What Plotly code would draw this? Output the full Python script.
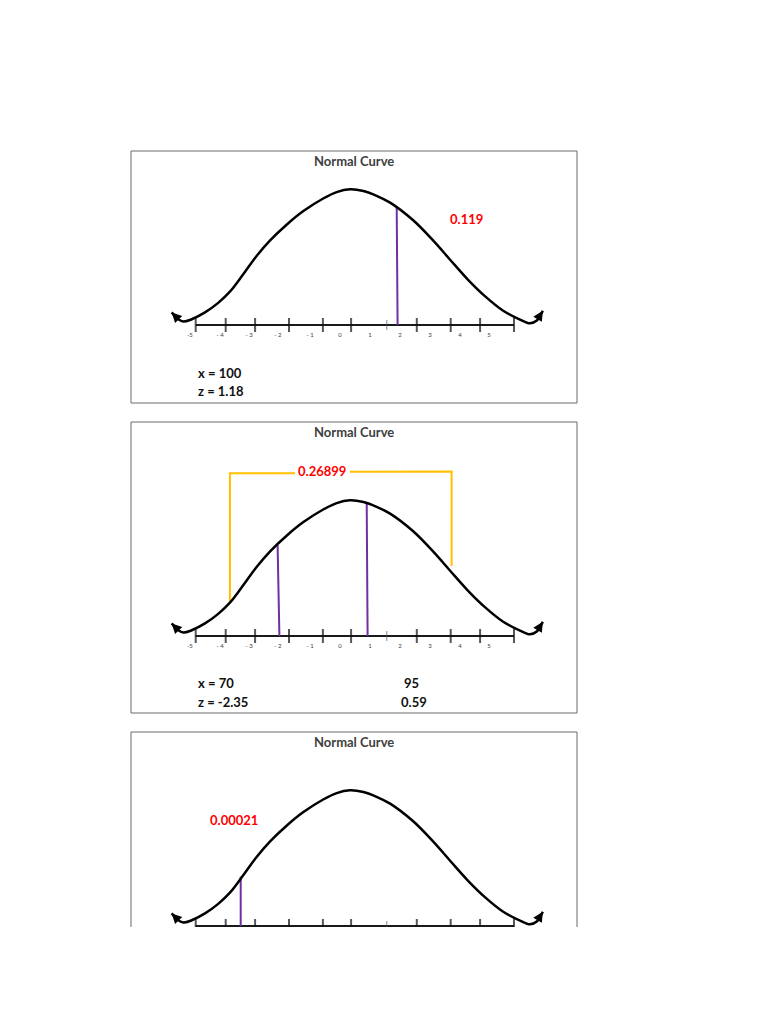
import plotly.graph_objects as go

W, H = 768, 1024

# traced outline of the hand-drawn bell curve (same drawing in all panels)
curve_x = [-5.61, -5.39, -5.22, -4.94, -4.50, -4.06, -3.67, -3.22, -2.78, -2.33,
           -1.78, -1.22, -0.56, -0.11, 0.33, 0.78, 1.22, 1.67, 2.44, 3.11,
           3.67, 4.27, 4.83, 5.44, 6.00, 6.33, 6.56, 6.76]
curve_y = [0.037, 0.017, 0.010, 0.017, 0.037, 0.065, 0.098, 0.150, 0.203, 0.249,
           0.295, 0.335, 0.372, 0.391, 0.399, 0.394, 0.380, 0.360, 0.308, 0.248,
           0.192, 0.133, 0.085, 0.042, 0.016, 0.005, 0.013, 0.042]

# number line: tick marks (the 7th one is the thin one) and labels
tick_pos = [-4.81, -3.81, -2.83, -1.70, -0.57, 0.37, 1.56, 2.56, 3.69, 4.67, 5.80]
tick_thin = [False, False, False, False, False, False, True, False, False, False, False]
label_pos = [-5, -4, -3.03, -2.07, -1, 0, 1, 2, 3, 4, 4.97]
label_txt = ["-5", "- 4", "- 3", "- 2", "- 1", "0", "1", "2", "3", "4", "5"]

# panel 1
p1_cut_x = [[1.92, 1.89]]
p1_cut_y = [[0, 0.347]]
p1_prob = "0.119"
p1_prob_xy = (4.23, 0.312)
p1_notes = [("x = 100", -4.8, -0.140), ("z = 1.18", -4.8, -0.194)]

# panel 2
p2_cut_x = [[-2.02, -2.08], [0.92, 0.89]]
p2_cut_y = [[0, 0.268], [0, 0.392]]
p2_bracket_x = [-3.67, -3.67, -1.50, None, 0.33, 3.72, 3.72]
p2_bracket_y = [0.100, 0.479, 0.479, None, 0.483, 0.484, 0.206]
p2_prob = "0.26899"
p2_prob_xy = (-0.61, 0.485)
p2_notes = [("x = 70", -4.8, -0.139), ("z = -2.35", -4.8, -0.193),
            ("95", 2.06, -0.139), ("0.59", 1.97, -0.193)]

# panel 3
p3_cut_x = [[-3.31, -3.31]]
p3_cut_y = [[0, 0.145]]
p3_prob = "0.00021"
p3_prob_xy = (-3.53, 0.312)

# box edges in pixels: top, bottom, number line row
panels = [
    dict(top=151, bottom=403, line=325, cuts=(p1_cut_x, p1_cut_y), prob=p1_prob,
         prob_xy=p1_prob_xy, notes=p1_notes, labels=True, closed=True),
    dict(top=422, bottom=713, line=636, cuts=(p2_cut_x, p2_cut_y), prob=p2_prob,
         prob_xy=p2_prob_xy, notes=p2_notes, labels=True, closed=True,
         bracket=(p2_bracket_x, p2_bracket_y)),
    dict(top=732, bottom=927, line=926, cuts=(p3_cut_x, p3_cut_y), prob=p3_prob,
         prob_xy=p3_prob_xy, notes=[], labels=False, closed=False),
]

BOX_L, BOX_R = 131, 577
X0PX, XSCALE = 340, 30.0
YSCALE = 340.0
FONT = "Lato"

fig = go.Figure()
annotations = []
shapes = []

for i, p in enumerate(panels):
    n = "" if i == 0 else str(i + 1)
    xa, ya = "x" + n, "y" + n

    fig.add_trace(go.Scatter(x=[tick_pos[0], tick_pos[-1]], y=[0, 0], mode="lines",
                             line=dict(color="#1a1a1a", width=2),
                             xaxis=xa, yaxis=ya, hoverinfo="skip"))
    fig.add_trace(go.Scatter(
        x=tick_pos, y=[0] * len(tick_pos), mode="markers",
        marker=dict(symbol="line-ns", size=[7 if t else 10 for t in tick_thin],
                    line=dict(width=[1 if t else 2 for t in tick_thin],
                              color=["#555555" if t else "#111111" for t in tick_thin])),
        xaxis=xa, yaxis=ya, hoverinfo="skip"))
    if p["labels"]:
        fig.add_trace(go.Scatter(x=label_pos, y=[-0.032] * len(label_pos), mode="text",
                                 text=label_txt,
                                 textfont=dict(size=6, color="#404040", family=FONT),
                                 xaxis=xa, yaxis=ya, hoverinfo="skip"))

    if "bracket" in p:
        bx, by = p["bracket"]
        fig.add_trace(go.Scatter(x=bx, y=by, mode="lines",
                                 line=dict(color="#FFC000", width=2),
                                 xaxis=xa, yaxis=ya, hoverinfo="skip"))

    for cx, cy in zip(*p["cuts"]):
        fig.add_trace(go.Scatter(x=cx, y=cy, mode="lines",
                                 line=dict(color="#7030A0", width=2),
                                 xaxis=xa, yaxis=ya, hoverinfo="skip"))

    fig.add_trace(go.Scatter(x=curve_x, y=curve_y, mode="lines",
                             line=dict(color="black", width=2.5, shape="spline",
                                       smoothing=1),
                             xaxis=xa, yaxis=ya, hoverinfo="skip"))

    # arrowheads at both ends of the curve
    for head, tail in ((0, 1), (-1, -2)):
        annotations.append(dict(
            x=curve_x[head], y=curve_y[head], ax=curve_x[tail], ay=curve_y[tail],
            xref=xa, yref=ya, axref=xa, ayref=ya, text="", showarrow=True,
            arrowhead=2, arrowsize=1, arrowwidth=2, arrowcolor="black", standoff=0))

    px_h = p["bottom"] - p["top"]
    annotations.append(dict(
        x=0.5, y=(p["bottom"] - (p["top"] + 10)) / px_h, xref=xa + " domain",
        yref=ya + " domain", yanchor="middle", text="<b>Normal Curve</b>",
        showarrow=False, font=dict(size=13, color="#404040", family=FONT)))

    annotations.append(dict(
        x=p["prob_xy"][0], y=p["prob_xy"][1], xref=xa, yref=ya,
        text="<b>" + p["prob"] + "</b>", showarrow=False,
        font=dict(size=13, color="#FF0000", family=FONT)))

    for txt, tx, ty in p["notes"]:
        annotations.append(dict(
            x=tx, y=ty, xref=xa, yref=ya, text="<b>" + txt + "</b>",
            showarrow=False, xanchor="left",
            font=dict(size=13, color="#111111", family=FONT)))

    fig.layout["xaxis" + n] = dict(
        domain=[BOX_L / W, BOX_R / W],
        range=[(BOX_L - X0PX) / XSCALE, (BOX_R - X0PX) / XSCALE],
        visible=False, anchor=ya, fixedrange=True)
    fig.layout["yaxis" + n] = dict(
        domain=[1 - p["bottom"] / H, 1 - p["top"] / H],
        range=[(p["line"] - p["bottom"]) / YSCALE, (p["line"] - p["top"]) / YSCALE],
        visible=False, anchor=xa, fixedrange=True)

    border = dict(color="#6b6b6b", width=1)
    if p["closed"]:
        shapes.append(dict(type="rect", xref=xa + " domain", yref=ya + " domain",
                           x0=0, x1=1, y0=0, y1=1, line=border))
    else:
        shapes.append(dict(type="path", xref=xa + " domain", yref=ya + " domain",
                           path="M0,0 L0,1 L1,1 L1,0", line=border))

fig.update_layout(
    width=W, height=H, margin=dict(l=0, r=0, t=0, b=0),
    paper_bgcolor="white", plot_bgcolor="white", showlegend=False,
    annotations=annotations, shapes=shapes,
)

# drop the browser's default body margin so the figure sits at the page corner
fig.write_html("out.html", config={"displayModeBar": False},
               post_script="document.body.style.margin='0px';")
